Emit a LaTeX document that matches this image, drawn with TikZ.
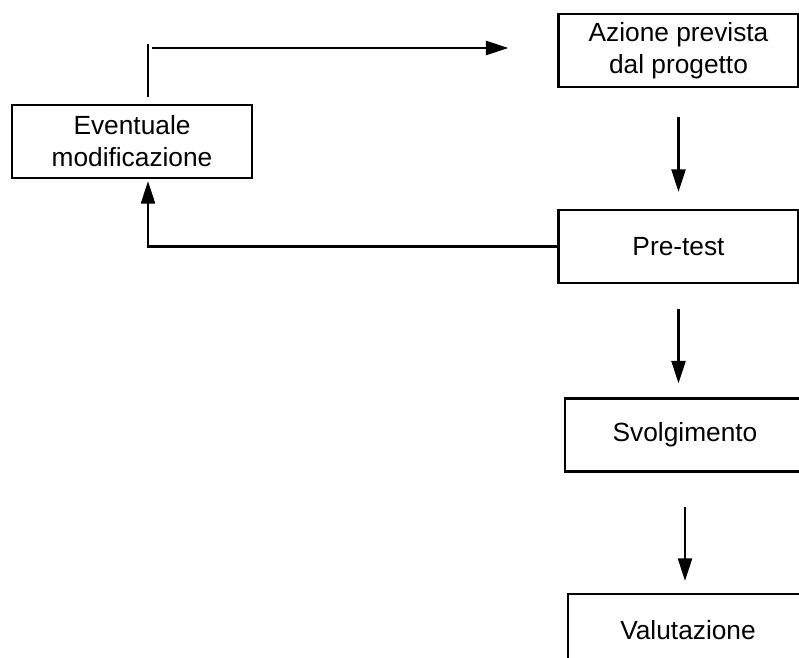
\documentclass[tikz,border=0pt]{standalone}
\usepackage{fontspec}
\setmainfont{Liberation Sans}
\usepackage{tikz}
\usetikzlibrary{arrows.meta}

\begin{document}
\begin{tikzpicture}[x=0.025cm,y=-0.025cm]
\useasboundingbox (0,0) rectangle (799,657);
\clip (0,0) rectangle (799,657);
\coordinate (a) at (132,141.5);
\coordinate (b) at (678.5,50.5);
\coordinate (c) at (678.5,246.5);
\coordinate (d) at (685,435);
\coordinate (e) at (688,630.5);
\coordinate (f) at (152,48);
\tikzset{box/.style={draw, line width=1.6pt, minimum width=6cm, minimum height=1.825cm, align=center, font=\fontsize{18.7}{22.8}\selectfont},
arr/.style={line width=1.6pt, -{Triangle[length=16pt,width=10pt]}}}
\begin{scope}[line width=1.6pt]
% draws boxes
\node[box] (evt) at (a) {Eventuale\\modificazione};
\node[box] (azione) at (b) {Azione prevista\\dal progetto};
\node[box] (pretest) at (c) {Pre-test};
\node[box] (svolg) at (d) {Svolgimento};
\node[box] (valut) at (e) {Valutazione};
% draws arrows
\draw[arr, shorten <=0.725cm, shorten >=0.425cm] (azione.south) -- (pretest.north);
\draw[arr, shorten <=0.625cm, shorten >=0.35cm] (pretest.south) -- (pretest.south |- svolg.north);
\draw[arr, shorten <=0.85cm, shorten >=0.3cm] (svolg.south) -- (svolg.south |- valut.north);
\draw[arr, shorten >=0.05cm] (pretest.west) -| ([xshift=0.4cm]evt.south);
\draw ([xshift=0.4cm,yshift=0.175cm]evt.north) -- ++(0,1.325cm);
\draw[arr, shorten >=1.225cm] (f) -- (f -| azione.west);
\end{scope}
\end{tikzpicture}
\end{document}
